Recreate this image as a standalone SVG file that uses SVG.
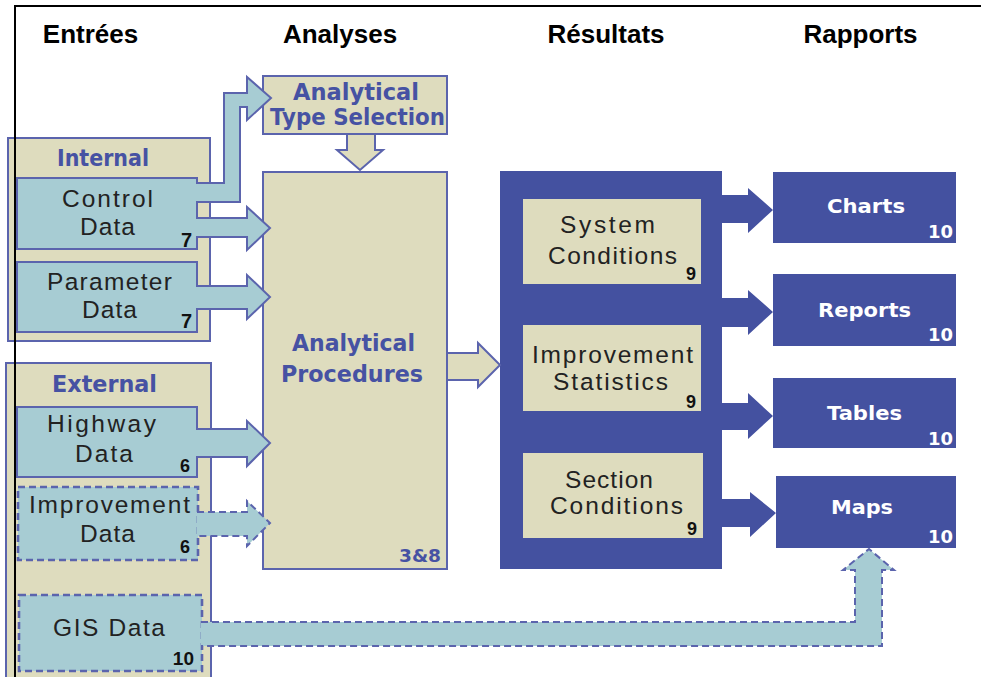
<svg xmlns="http://www.w3.org/2000/svg" width="981" height="677" viewBox="0 0 981 677">
  <style>
    .hdr { font-family: "Liberation Sans", Arial, sans-serif; font-weight: bold; font-size: 26px; fill: #000; text-anchor: middle; }
    .beige { fill: #DEDCBE; stroke: #5B64AD; stroke-width: 2; }
    .data { fill: #A7CCD3; stroke: #5B64AD; stroke-width: 2; }
    .dash { stroke-width: 2.6; stroke-dasharray: 7 4; }
    .res { fill: #DEDCBE; }
    .navy { fill: #4451A0; }
    .lbl { font-family: "Liberation Sans", Arial, sans-serif; font-size: 24.5px; fill: #222; text-anchor: middle; }
    .blue { font-family: "DejaVu Sans", Verdana, sans-serif; font-weight: bold; font-size: 23px; fill: #4652A3; text-anchor: middle; }
    .white { font-family: "DejaVu Sans", Verdana, sans-serif; font-weight: bold; font-size: 20px; fill: #fff; text-anchor: middle; }
    .num { font-family: "Liberation Sans", Arial, sans-serif; font-weight: bold; font-size: 18px; fill: #111; text-anchor: end; }
    .wnum { font-family: "DejaVu Sans", Verdana, sans-serif; font-weight: bold; font-size: 18px; fill: #fff; text-anchor: end; }
    .arr-data { fill: #A7CCD3; stroke: #5B64AD; stroke-width: 2; stroke-linejoin: miter; }
    .arr-beige { fill: #DEDCBE; stroke: #5B64AD; stroke-width: 2; }
    .arr-navy { fill: #4451A0; }
  </style>

  <rect width="981" height="677" fill="#fff"/>

  <!-- column headings -->
  <g id="headings">
    <text class="hdr" x="90.5" y="43">Entrées</text>
    <text class="hdr" x="340" y="43">Analyses</text>
    <text class="hdr" x="606" y="43">Résultats</text>
    <text class="hdr" x="860.5" y="43">Rapports</text>
  </g>

  <!-- input groups -->
  <g id="internal">
    <rect class="beige" x="8" y="138" width="202" height="203"/>
    <text class="blue" x="103" y="166" textLength="92" lengthAdjust="spacingAndGlyphs">Internal</text>
  </g>
  <g id="external">
    <rect class="beige" x="6" y="363" width="205" height="320"/>
    <text class="blue" x="104.5" y="392" textLength="105" lengthAdjust="spacingAndGlyphs">External</text>
  </g>

  <g id="control-data">
    <rect class="data" x="17" y="178" width="180" height="71"/>
    <text class="lbl" x="107.5" y="207" textLength="91">Control</text>
    <text class="lbl" x="107.5" y="235" textLength="55">Data</text>
    <text class="num" x="192" y="247" style="font-size:20px">7</text>
  </g>
  <g id="parameter-data">
    <rect class="data" x="17" y="262" width="180" height="70"/>
    <text class="lbl" x="109.5" y="290" textLength="125">Parameter</text>
    <text class="lbl" x="109.5" y="318" textLength="55">Data</text>
    <text class="num" x="192" y="328" style="font-size:20px">7</text>
  </g>
  <g id="highway-data">
    <rect class="data" x="17" y="407" width="180" height="70"/>
    <text class="lbl" x="101.5" y="432" textLength="109">Highway</text>
    <text class="lbl" x="104" y="462" textLength="58">Data</text>
    <text class="num" x="190" y="472">6</text>
  </g>
  <g id="improvement-data">
    <rect class="data dash" x="18" y="487" width="180" height="73"/>
    <text class="lbl" x="109.5" y="513" textLength="161">Improvement</text>
    <text class="lbl" x="107.5" y="542" textLength="55">Data</text>
    <text class="num" x="190" y="553">6</text>
  </g>
  <g id="gis-data">
    <rect class="data dash" x="19" y="595" width="183" height="76"/>
    <text class="lbl" x="109" y="636" textLength="112">GIS Data</text>
    <text class="num" x="194" y="665" style="font-size:19px">10</text>
  </g>

  <!-- analysis -->
  <g id="type-selection">
    <rect class="beige" x="263" y="76" width="184" height="58"/>
    <text class="blue" x="356" y="100" textLength="126" lengthAdjust="spacingAndGlyphs">Analytical</text>
    <text class="blue" x="357.5" y="125" textLength="175" lengthAdjust="spacingAndGlyphs">Type Selection</text>
  </g>
  <g id="procedures">
    <rect class="beige" x="263" y="172" width="184" height="397"/>
    <text class="blue" x="353.5" y="351" textLength="123" lengthAdjust="spacingAndGlyphs">Analytical</text>
    <text class="blue" x="352" y="382" textLength="142" lengthAdjust="spacingAndGlyphs">Procedures</text>
    <text class="blue" x="420" y="562" style="font-size:17px" textLength="42" lengthAdjust="spacingAndGlyphs">3&amp;8</text>
  </g>

  <!-- results -->
  <g id="results">
    <rect class="navy" x="500" y="171" width="222" height="398"/>
  </g>
  <g id="system-conditions">
    <rect class="res" x="523" y="199" width="178" height="85"/>
    <text class="lbl" x="607.5" y="233" textLength="95">System</text>
    <text class="lbl" x="612.5" y="264" textLength="129">Conditions</text>
    <text class="num" x="696" y="280">9</text>
  </g>
  <g id="improvement-statistics">
    <rect class="res" x="523" y="325" width="178" height="86"/>
    <text class="lbl" x="612.5" y="363" textLength="161">Improvement</text>
    <text class="lbl" x="610.5" y="390" textLength="115">Statistics</text>
    <text class="num" x="696" y="408">9</text>
  </g>
  <g id="section-conditions">
    <rect class="res" x="523" y="453" width="180" height="85"/>
    <text class="lbl" x="609" y="488" textLength="88">Section</text>
    <text class="lbl" x="616.5" y="514" textLength="133">Conditions</text>
    <text class="num" x="697" y="535">9</text>
  </g>

  <!-- reports -->
  <g id="charts">
    <rect class="navy" x="773" y="172" width="183" height="71"/>
    <text class="white" x="866" y="213" textLength="78" lengthAdjust="spacingAndGlyphs">Charts</text>
    <text class="wnum" x="953" y="238">10</text>
  </g>
  <g id="reports">
    <rect class="navy" x="773" y="274" width="183" height="72"/>
    <text class="white" x="864.5" y="317" textLength="93" lengthAdjust="spacingAndGlyphs">Reports</text>
    <text class="wnum" x="953" y="341">10</text>
  </g>
  <g id="tables">
    <rect class="navy" x="773" y="378" width="183" height="70"/>
    <text class="white" x="864.5" y="420" textLength="75" lengthAdjust="spacingAndGlyphs">Tables</text>
    <text class="wnum" x="953" y="445">10</text>
  </g>
  <g id="maps">
    <rect class="navy" x="776" y="476" width="180" height="72"/>
    <text class="white" x="862" y="514" textLength="62" lengthAdjust="spacingAndGlyphs">Maps</text>
    <text class="wnum" x="953" y="543">10</text>
  </g>

  <!-- connectors -->
  <g id="connectors">
    <path class="arr-data" d="M196,183 H224 V93 H247 V77 L271,98 L247,120 V107 H240 V202 H196"/>
    <path class="arr-data" d="M196,218 H247 V207 L270,228 L247,250 V237 H196"/>
    <path class="arr-data" d="M196,286 H247 V275 L270,297 L247,319 V309 H196"/>
    <path class="arr-data" d="M196,429 H247 V421 L270,443 L247,466 V457 H196"/>
    <path class="arr-data dash" d="M197,512 H247 V501 L270,523 L247,546 V536 H197"/>
    <path class="arr-data dash" d="M201,622 H855 V570 H843 L869,549 L894,570 H882 V646 H201"/>
    <path class="arr-beige" d="M347,135 V150 H337 L360,170 L383,150 H375 V135"/>
    <path class="arr-beige" d="M448,353 H478 V343 L500,365 L478,387 V380 H448"/>
    <path class="arr-navy" d="M721,195 H748 V188 L773,210 L748,233 V223 H721 Z"/>
    <path class="arr-navy" d="M721,298 H748 V290 L773,312 L748,335 V327 H721 Z"/>
    <path class="arr-navy" d="M721,403 H748 V393 L773,416 L748,439 V430 H721 Z"/>
    <path class="arr-navy" d="M721,499 H750 V492 L776,513 L750,537 V527 H721 Z"/>
  </g>

  <!-- outer frame -->
  <path d="M15,677 V6 H981" fill="none" stroke="#000" stroke-width="2"/>
</svg>
